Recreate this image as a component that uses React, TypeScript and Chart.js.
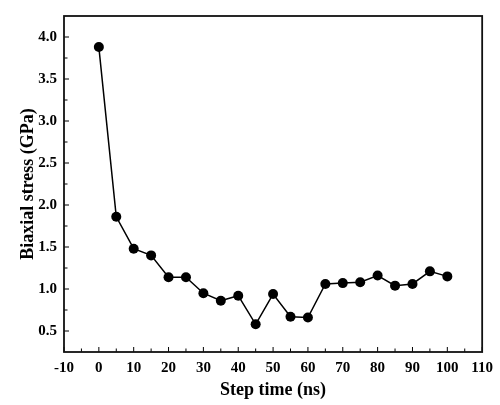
import React, { useEffect, useRef } from "react";
import { Chart, registerables } from "chart.js";

Chart.register(...registerables);

const stepTimes = [0, 5, 10, 15, 20, 25, 30, 35, 40, 45, 50, 55, 60, 65, 70, 75, 80, 85, 90, 95, 100];
const stressValues = [3.88, 1.86, 1.48, 1.4, 1.14, 1.14, 0.95, 0.86, 0.92, 0.58, 0.94, 0.67, 0.66, 1.06, 1.07, 1.08, 1.16, 1.04, 1.06, 1.21, 1.15];
const xTickValues = [-10, 0, 10, 20, 30, 40, 50, 60, 70, 80, 90, 100, 110];
const yTickValues = [0.5, 1.0, 1.5, 2.0, 2.5, 3.0, 3.5, 4.0];

const FONT = '"Liberation Serif", "Times New Roman", serif';

const framePlugin = {
  id: "frame",
  afterDatasetsDraw(chart: any) {
    const { ctx, chartArea } = chart;
    const { left, right, top, bottom } = chartArea;
    const xs = chart.scales.x;
    const ys = chart.scales.y;
    ctx.save();
    ctx.strokeStyle = "#000";
    ctx.lineWidth = 1;
    ctx.beginPath();
    const major = 5;
    const minor = 3.5;
    for (let i = 0; i < xTickValues.length; i++) {
      const v = xTickValues[i];
      const px = xs.getPixelForValue(v);
      ctx.moveTo(px, bottom);
      ctx.lineTo(px, bottom - major);
      if (i < xTickValues.length - 1) {
        const m = xs.getPixelForValue((v + xTickValues[i + 1]) / 2);
        ctx.moveTo(m, bottom);
        ctx.lineTo(m, bottom - minor);
      }
    }
    for (let i = 0; i < yTickValues.length; i++) {
      const v = yTickValues[i];
      const py = ys.getPixelForValue(v);
      ctx.moveTo(left, py);
      ctx.lineTo(left + major, py);
      if (i < yTickValues.length - 1) {
        const m = ys.getPixelForValue((v + yTickValues[i + 1]) / 2);
        ctx.moveTo(left, m);
        ctx.lineTo(left + minor, m);
      }
    }
    ctx.stroke();
    ctx.lineWidth = 1.8;
    ctx.strokeStyle = "#111";
    ctx.strokeRect(left, top, right - left, bottom - top);
    ctx.restore();
  },
};

export default function App() {
  const canvasRef = useRef<HTMLCanvasElement | null>(null);

  useEffect(() => {
    document.body.style.margin = "0";
    const canvas = canvasRef.current;
    if (!canvas) return;
    const chart = new Chart(canvas, {
      type: "line",
      data: {
        datasets: [
          {
            data: stepTimes.map((x, i) => ({ x, y: stressValues[i] })),
            borderColor: "#000",
            backgroundColor: "#000",
            borderWidth: 1.5,
            pointRadius: 5,
            pointBackgroundColor: "#000",
            pointBorderColor: "#000",
            pointBorderWidth: 0,
            tension: 0,
          },
        ],
      },
      options: {
        animation: false,
        responsive: false,
        maintainAspectRatio: false,
        layout: { padding: { top: 13, right: 13, left: 0, bottom: 0 } },
        plugins: {
          legend: { display: false },
          tooltip: { enabled: false },
          title: { display: false },
        },
        scales: {
          x: {
            type: "linear",
            min: -10,
            max: 110,
            afterBuildTicks: (scale: any) => {
              scale.ticks = xTickValues.map((v) => ({ value: v }));
            },
            afterFit: (scale: any) => {
              scale.height = 53;
            },
            grid: { display: false, drawTicks: false },
            border: { display: false },
            ticks: {
              padding: 7,
              maxRotation: 0,
              autoSkip: false,
              color: "#000",
              font: { family: FONT, size: 15, weight: "bold" },
              callback: (v: any) => String(v),
            },
            title: {
              display: true,
              text: "Step time (ns)",
              color: "#000",
              font: { family: FONT, size: 18, weight: "bold" },
              padding: { top: 0, bottom: 4 },
            },
          },
          y: {
            type: "linear",
            min: 0.25,
            max: 4.25,
            afterBuildTicks: (scale: any) => {
              scale.ticks = yTickValues.map((v) => ({ value: v }));
            },
            afterFit: (scale: any) => {
              scale.width = 64;
            },
            grid: { display: false, drawTicks: false },
            border: { display: false },
            ticks: {
              padding: 7,
              autoSkip: false,
              color: "#000",
              font: { family: FONT, size: 15, weight: "bold" },
              callback: (v: any) => Number(v).toFixed(1),
            },
            title: {
              display: true,
              text: "Biaxial stress (GPa)",
              color: "#000",
              font: { family: FONT, size: 18, weight: "bold" },
              padding: { top: 18, bottom: 0 },
            },
          },
        },
      },
      plugins: [framePlugin],
    });
    return () => chart.destroy();
  }, []);

  return (
    <div style={{ width: 500, height: 405, background: "#fff" }}>
      <canvas ref={canvasRef} width={500} height={405} style={{ width: 500, height: 405, display: "block" }} />
    </div>
  );
}
